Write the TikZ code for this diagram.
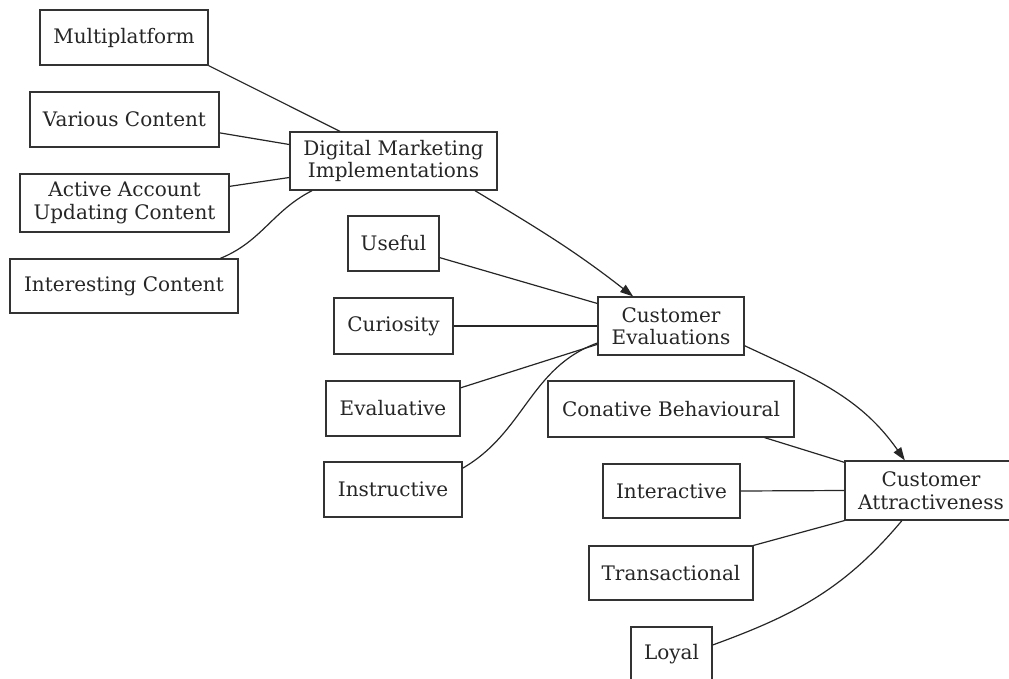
\documentclass[tikz,border=0pt]{standalone}
\usepackage{fontspec}
\setmainfont{DejaVu Serif}
\usetikzlibrary{arrows.meta}

\begin{document}
\begin{tikzpicture}[x=1pt, y=-1pt, >={Triangle[length=13pt,width=9pt]},
    box/.style={draw=black!80, line width=1.2pt, align=center, inner sep=0pt,
      text=black!85, font=\fontsize{20}{22.5}\selectfont},
    link/.style={draw=black!85, line width=1.2pt}]
  \useasboundingbox (0,0) rectangle (1009,679);

  % first column
  \node[box, minimum width=168pt, minimum height=55pt] (mp) at (124,37.5) {Multiplatform};
  \node[box, minimum width=189pt, minimum height=55pt] (vc) at (124.5,119.5) {Various Content};
  \node[box, minimum width=209pt, minimum height=58pt] (aa) at (124.5,203) {Active Account\\Updating Content};
  \node[box, minimum width=228pt, minimum height=54pt] (ic) at (124,286) {Interesting Content};

  % second column
  \node[box, minimum width=207pt, minimum height=58pt] (dmi) at (393.5,161) {Digital Marketing\\Implementations};
  \node[box, minimum width=91pt, minimum height=55pt] (us) at (393.5,243.5) {Useful};
  \node[box, minimum width=119pt, minimum height=56pt] (cu) at (393.5,326) {Curiosity};
  \node[box, minimum width=134pt, minimum height=55pt] (ev) at (393,408.5) {Evaluative};
  \node[box, minimum width=138pt, minimum height=55pt] (ins) at (393,489.5) {Instructive};

  % third column
  \node[box, minimum width=146pt, minimum height=58pt] (ce) at (671,326) {Customer\\Evaluations};
  \node[box, minimum width=246pt, minimum height=56pt] (cb) at (671,409) {Conative Behavioural};
  \node[box, minimum width=137pt, minimum height=54pt] (ia) at (671.5,491) {Interactive};
  \node[box, minimum width=164pt, minimum height=54pt] (tr) at (671,573) {Transactional};
  \node[box, minimum width=81pt, minimum height=55pt] (lo) at (671.5,654.5) {Loyal};

  % fourth column
  \node[box, minimum width=172pt, minimum height=59pt] (ca) at (931,490.5) {Customer\\Attractiveness};

  % into Digital Marketing Implementations
  \draw[link] (mp.south east) -- (dmi.151);
  \draw[link] (vc.-8.7) -- (dmi.171.2);
  \draw[link] (aa.9.2) -- (dmi.189.3);
  \draw[link] (ic.16.9) to[out=22, in=207] (dmi.200.3);

  % into Customer Evaluations
  \draw[link, ->] (dmi.-20.8) to[out=-31, in=142] (ce.142.7);
  \draw[link] (us.-17.7) -- (ce.163.2);
  \draw[link] (cu.east) -- (ce.west);
  \draw[link] (ev.17) -- (ce.194.6);
  \draw[link] (ins.17.3) to[out=30, in=200] (ce.193);

  % into Customer Attractiveness
  \draw[link, ->] (ce.-15.3) to[out=-25, in=125] (ca.131.4);
  \draw[link] (cb.-17.1) -- (ca.162.9);
  \draw[link] (ia.east) -- (ca.west);
  \draw[link] (tr.north east) -- (ca.south west);
  \draw[link] (lo.13.2) to[out=20, in=230] (ca.226.5);
\end{tikzpicture}
\end{document}
